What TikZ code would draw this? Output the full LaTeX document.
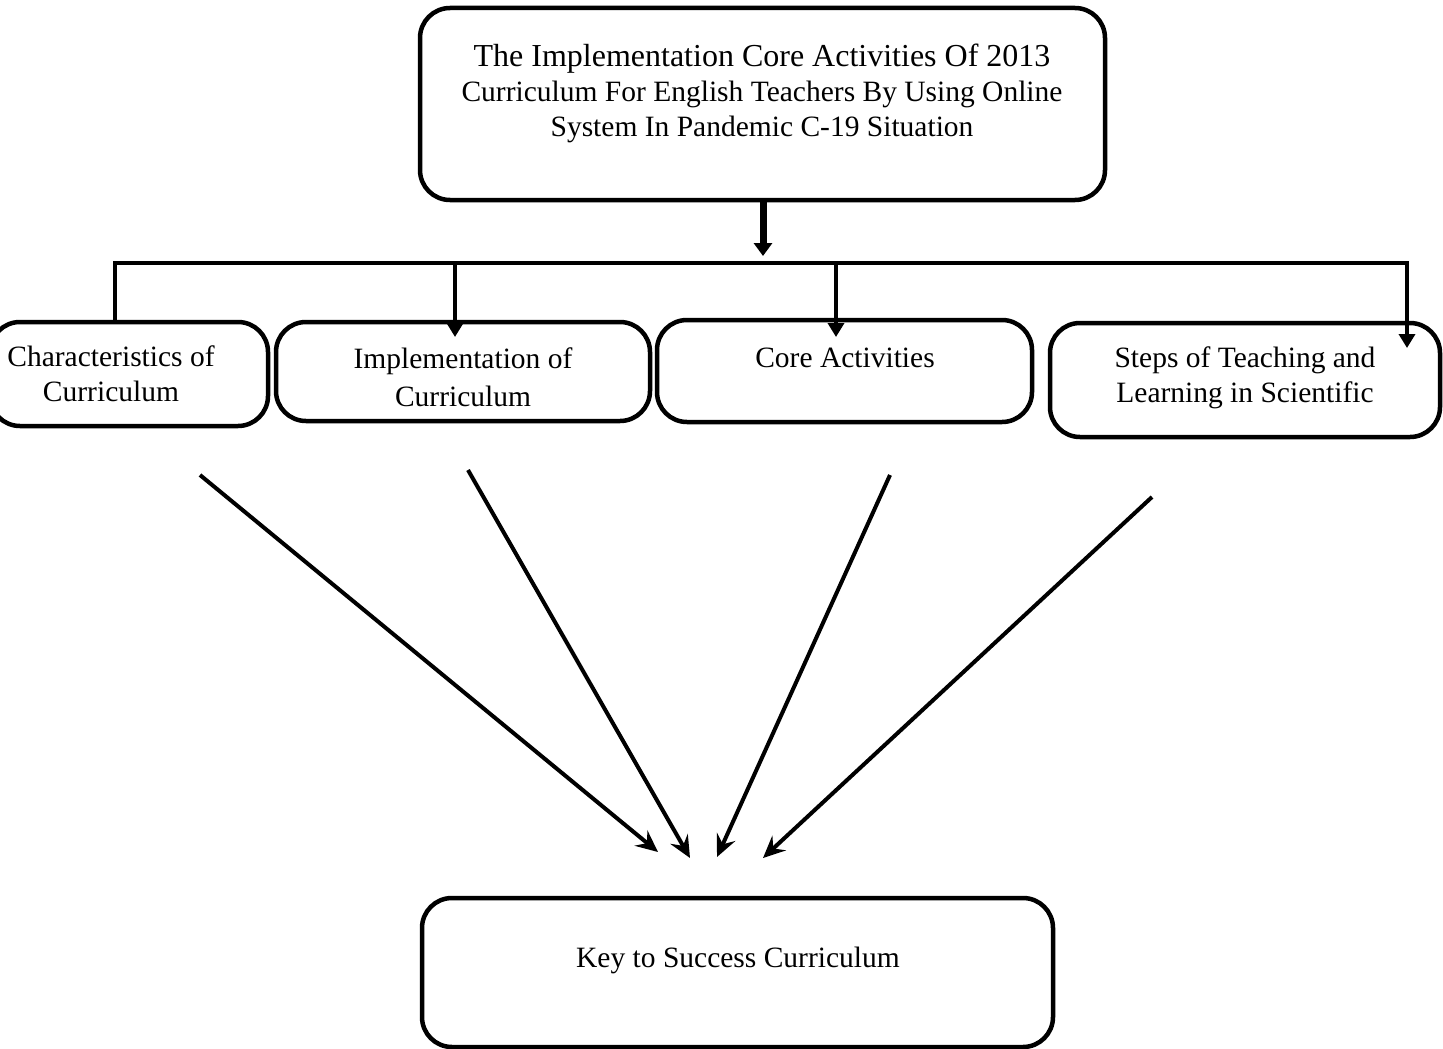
\documentclass[tikz,border=0pt]{standalone}
\usepackage{fontspec}
\setmainfont{Liberation Serif}
\usetikzlibrary{arrows.meta}
\tikzset{
  box/.style={draw=black, line width=4.5pt, rounded corners=30pt, fill=white, inner sep=0pt},
  lbl/.style={font=\fontsize{29.5}{35}\selectfont, align=center, inner sep=0pt},
  toplbl/.style={font=\fontsize{29.5}{35}\selectfont, align=center, inner sep=0pt},
  link/.style={line width=4pt},
  drop/.style={line width=4pt, -{Triangle[length=14pt,width=16pt]}},
  diag/.style={line width=4pt, -{Stealth[length=22pt,width=20pt,inset=8pt]}},
  mainarrow/.style={line width=7pt, -{Triangle[length=13pt,width=18pt]}}
}
\begin{document}
\begin{tikzpicture}[x=1pt,y=-1pt]
\useasboundingbox (0,0) rectangle (1443,1049);
\clip (0,0) rectangle (1443,1049);
\fill[white] (0,0) rectangle (1443,1049);
% top box
\node[box, minimum width=685pt, minimum height=192pt] (top) at (762.5,104) {};
\node[toplbl] (toptext) at (762,93) {{\fontsize{32}{35}\selectfont The Implementation Core Activities Of 2013}\\Curriculum For English Teachers By Using Online\\System In Pandemic C-19 Situation};
% child boxes
\node[box, minimum width=278pt, minimum height=104pt] (b1) at (129,374) {};
\node[box, minimum width=374pt, minimum height=99pt] (b2) at (463,371.5) {};
\node[box, minimum width=375pt, minimum height=102pt] (b3) at (844.5,371) {};
\node[box, minimum width=390pt, minimum height=114pt] (b4) at (1245,380) {};
\node[lbl] (t1) at (111,374) {Characteristics of\\Curriculum};
\node[lbl, font=\fontsize{29.5}{38}\selectfont] (t2) at (463,377) {Implementation of\\Curriculum};
\node[lbl] (t3) at (845,358) {Core Activities};
\node[lbl] (t4) at (1245,378) {Steps of Teaching and\\Learning in Scientific};
% bottom box
\node[box, minimum width=631pt, minimum height=149pt] (key) at (737.5,972.5) {};
\node[lbl] (t5) at (738,960) {Key to Success Curriculum};
% bus
\coordinate (busL) at (115,263);
\coordinate (busR) at (1407,263);
\coordinate (busM) at (763,256);
\draw[mainarrow] (top.south -| busM) -- (busM);
\draw[link, line cap=rect] (busL) -- (busR);
\draw[link] (busL) -- (busL |- b1.north);
\coordinate (d2) at (455,263);
\coordinate (d3) at (836,263);
\draw[drop] (d2) -- (455,337);
\draw[drop] (d3) -- (836,337);
\draw[drop] (busR) -- (1407,348);
% diagonal arrows
\coordinate (s1) at (200,475);
\coordinate (s2) at (468,470);
\coordinate (s3) at (890,475);
\coordinate (s4) at (1152,497);
\coordinate (e1) at (658,852);
\coordinate (e2) at (690,858);
\coordinate (e3) at (717,857);
\coordinate (e4) at (763,858);
\draw[diag] (s1) -- (e1);
\draw[diag] (s2) -- (e2);
\draw[diag] (s3) -- (e3);
\draw[diag] (s4) -- (e4);
\end{tikzpicture}
\end{document}
